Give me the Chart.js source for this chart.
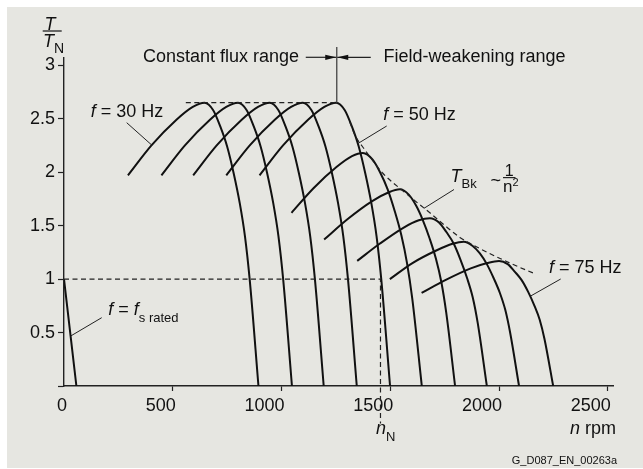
<!DOCTYPE html>
<html>
<head>
<meta charset="utf-8">
<script src="https://cdn.jsdelivr.net/npm/chart.js@4.4.0/dist/chart.umd.min.js"></script>
<style>
  html, body { margin: 0; padding: 0; background: #fff; }
  canvas { display: block; }
</style>
</head>
<body>
<canvas id="chart" width="643" height="469"></canvas>
<script>
// speed n in rpm, torque as T/TN
// constant flux range: every curve reaches the same breakdown torque
const torqueFlux = [1.97, 2.25, 2.49, 2.61, 2.65, 2.58, 2.43, 2.24, 1.99, 1.71, 1.40, 0.99, 0];
const n30 = [294, 402, 517, 592, 646, 686, 718, 750, 780, 808, 832, 854, 894];
const n35 = [448, 556, 671, 746, 800, 840, 872, 904, 934, 962, 986, 1008, 1048];
const n40 = [594, 702, 817, 892, 946, 986, 1018, 1050, 1080, 1108, 1132, 1154, 1194];
const n45 = [746, 854, 969, 1044, 1098, 1138, 1170, 1202, 1232, 1260, 1284, 1306, 1346];
const n50 = [899, 1007, 1122, 1197, 1251, 1291, 1323, 1355, 1385, 1413, 1437, 1459, 1499];

// field-weakening range
const n55 = [1046, 1147, 1254, 1324, 1374, 1418, 1453, 1488, 1520, 1551, 1577, 1601, 1645];
const t55 = [1.62, 1.85, 2.05, 2.15, 2.18, 2.12, 2.00, 1.84, 1.64, 1.41, 1.15, 0.82, 0];
const n60 = [1196, 1303, 1417, 1491, 1544, 1585, 1618, 1650, 1681, 1710, 1735, 1757, 1798];
const t60 = [1.37, 1.56, 1.73, 1.81, 1.84, 1.79, 1.69, 1.55, 1.38, 1.19, 0.97, 0.69, 0];
const n65 = [1348, 1451, 1560, 1631, 1682, 1724, 1758, 1792, 1823, 1853, 1879, 1902, 1944];
const t65 = [1.17, 1.33, 1.48, 1.55, 1.57, 1.53, 1.44, 1.33, 1.18, 1.01, 0.83, 0.59, 0];
const n70 = [1498, 1602, 1714, 1786, 1838, 1879, 1912, 1944, 1975, 2004, 2029, 2051, 2092];
const t70 = [1.00, 1.15, 1.27, 1.33, 1.35, 1.31, 1.24, 1.14, 1.01, 0.87, 0.71, 0.50, 0];
const n75 = [1644, 1753, 1870, 1946, 2000, 2040, 2072, 2104, 2134, 2163, 2187, 2209, 2249];
const t75 = [0.87, 0.99, 1.10, 1.15, 1.17, 1.14, 1.07, 0.99, 0.88, 0.75, 0.62, 0.44, 0];

// f = fs rated line near standstill
const nRated = [0, 57];
const tRated = [1, 0];

// breakdown torque envelope TBk ~ 1/n^2 (dashed)
const nBk = [1314, 1337, 1383, 1466, 1555, 1682, 1820, 1898, 2050, 2165];
const tBk = [2.47, 2.35, 2.21, 1.99, 1.83, 1.62, 1.39, 1.30, 1.15, 1.05];

// dashed helpers: constant breakdown torque, rated point (1, nN)
const nPeakLine = [560, 1254];
const tPeakLine = [2.65, 2.65];
const nNomLine = [0, 1455, 1455];
const tNomLine = [1, 1, -0.35];
const nBoundary = 1254;

const xTicks = [0, 500, 1000, 1500, 2000, 2500];

const FAM = "'Liberation Sans', Arial, sans-serif";
const INK = "#111";

function pts(ns, ts) {
  return ns.map((n, i) => ({ x: n, y: ts[i] }));
}

function curve(ns, ts) {
  return {
    data: pts(ns, ts),
    borderColor: INK,
    borderWidth: 2,
    pointRadius: 0,
    fill: false,
    cubicInterpolationMode: "monotone",
  };
}

function dashed(ns, ts, smooth) {
  return {
    data: pts(ns, ts),
    borderColor: "#222",
    borderWidth: 1.2,
    borderDash: [5, 3.5],
    pointRadius: 0,
    fill: false,
    clip: false,
    cubicInterpolationMode: smooth ? "monotone" : "default",
  };
}

const datasets = [
  dashed(nPeakLine, tPeakLine),
  dashed(nNomLine, tNomLine),
  dashed(nBk, tBk, true),
  curve(nRated, tRated),
  curve(n30, torqueFlux),
  curve(n35, torqueFlux),
  curve(n40, torqueFlux),
  curve(n45, torqueFlux),
  curve(n50, torqueFlux),
  curve(n55, t55),
  curve(n60, t60),
  curve(n65, t65),
  curve(n70, t70),
  curve(n75, t75),
];

// draws text pieces one after the other (italic symbols, subscripts)
function runs(ctx, x, y, parts, align) {
  let w = 0;
  parts.forEach((p) => {
    ctx.font = p[1];
    w += ctx.measureText(p[0]).width;
  });
  let cx = align === "right" ? x - w : align === "center" ? x - w / 2 : x;
  parts.forEach((p) => {
    ctx.font = p[1];
    ctx.fillText(p[0], cx, y + (p[2] || 0));
    cx += ctx.measureText(p[0]).width;
  });
}

function line(ctx, x0, y0, x1, y1) {
  ctx.beginPath();
  ctx.moveTo(x0, y0);
  ctx.lineTo(x1, y1);
  ctx.stroke();
}

function arrow(ctx, x0, x1, y) {
  line(ctx, x0, y, x1, y);
  const dir = Math.sign(x1 - x0);
  ctx.beginPath();
  ctx.moveTo(x1, y);
  ctx.lineTo(x1 - dir * 11, y - 2.6);
  ctx.lineTo(x1 - dir * 11, y + 2.6);
  ctx.closePath();
  ctx.fill();
}

const backdrop = {
  id: "backdrop",
  beforeDraw(chart) {
    const ctx = chart.ctx;
    ctx.save();
    ctx.fillStyle = "#ffffff";
    ctx.fillRect(0, 0, chart.width, chart.height);
    ctx.fillStyle = "#e6e6e1";
    ctx.fillRect(7, 7, chart.width - 7, chart.height - 8);
    ctx.restore();
  },
};

const notes = {
  id: "notes",
  afterDraw(chart) {
    const ctx = chart.ctx;
    const xs = chart.scales.x;
    const ys = chart.scales.y;
    const reg = `18px ${FAM}`;
    const ital = `italic 18px ${FAM}`;
    const sub = `13px ${FAM}`;
    ctx.save();
    ctx.fillStyle = INK;
    ctx.strokeStyle = "#222";
    ctx.textAlign = "left";
    ctx.textBaseline = "alphabetic";

    // range boundary with arrows
    const bx = xs.getPixelForValue(nBoundary);
    const by = ys.getPixelForValue(tPeakLine[1]);
    ctx.lineWidth = 1.3;
    ctx.strokeStyle = "#444";
    line(ctx, bx, 47, bx, by);
    ctx.strokeStyle = "#222";
    ctx.lineWidth = 1.2;
    arrow(ctx, bx - 31, bx - 0.5, 57.3);
    arrow(ctx, bx + 34, bx + 0.5, 57.3);
    runs(ctx, 299, 62, [["Constant flux range", reg]], "right");
    runs(ctx, 383.5, 62, [["Field-weakening range", reg]]);

    // y title T / TN
    runs(ctx, 50, 29.5, [["T", ital]], "center");
    ctx.lineWidth = 1.3;
    line(ctx, 42.7, 31, 61.7, 31);
    runs(ctx, 43, 46.7, [["T", ital], ["N", `14px ${FAM}`, 6]]);

    // frequency labels with leader lines
    ctx.lineWidth = 1;
    runs(ctx, 90.7, 117.3, [["f", ital], [" = 30 Hz", reg]]);
    line(ctx, 126.7, 122.7, 151.7, 145);
    runs(ctx, 383.3, 120, [["f", ital], [" = 50 Hz", reg]]);
    line(ctx, 386.7, 126, 358.3, 143.3);
    runs(ctx, 549, 273.3, [["f", ital], [" = 75 Hz", reg]]);
    line(ctx, 560.7, 279, 530.7, 296);
    runs(ctx, 108.3, 315, [["f", ital], [" = ", reg], ["f", ital], ["s rated", sub, 6.7]]);
    line(ctx, 101.7, 317.7, 70.7, 336);

    // TBk ~ 1/n^2
    runs(ctx, 450.5, 181.7, [["T", ital], ["Bk", sub, 6.6]]);
    line(ctx, 454, 189.5, 424, 208.3);
    runs(ctx, 490.5, 186, [["~", reg]]);
    runs(ctx, 509.3, 175.5, [["1", `16px ${FAM}`]], "center");
    ctx.lineWidth = 1.2;
    line(ctx, 503, 177.6, 515.5, 177.6);
    runs(ctx, 503, 191.7, [["n", `17px ${FAM}`], ["2", `11px ${FAM}`, -6]]);

    // axis names
    runs(ctx, 376, 434, [["n", ital], ["N", sub, 6.5]]);
    runs(ctx, 616, 434, [["n", ital], [" rpm", reg]], "right");
    runs(ctx, 617, 464.3, [["G_D087_EN_00263a", `11px ${FAM}`]], "right");
    ctx.restore();
  },
};

new Chart(document.getElementById("chart"), {
  type: "line",
  data: { datasets },
  plugins: [backdrop, notes],
  options: {
    responsive: false,
    animation: false,
    devicePixelRatio: 1,
    layout: { padding: { left: 0, right: 30, top: 58, bottom: 53 } },
    plugins: { legend: { display: false }, tooltip: { enabled: false } },
    scales: {
      x: {
        type: "linear",
        min: 0,
        max: 2524,
        afterFit(scale) { scale.height = 30; },
        afterBuildTicks(scale) { scale.ticks = xTicks.map((v) => ({ value: v })); },
        ticks: {
          align: "end",
          labelOffset: 3,
          padding: 4,
          maxRotation: 0,
          color: INK,
          font: { family: FAM, size: 18 },
          callback: (v) => String(v),
        },
        grid: {
          drawOnChartArea: false,
          drawTicks: true,
          tickLength: 5,
          tickWidth: 1.2,
          tickColor: (c) => (c.tick && c.tick.value === 0 ? "rgba(0,0,0,0)" : "#222"),
        },
        border: { display: true, color: "#222", width: 1.4 },
      },
      y: {
        min: 0,
        max: 3.068,
        afterFit(scale) { scale.width = 64; },
        ticks: {
          stepSize: 0.5,
          includeBounds: false,
          padding: 3,
          color: INK,
          font: { family: FAM, size: 18 },
          callback: (v) => (v === 0 ? "" : String(v)),
        },
        grid: {
          drawOnChartArea: false,
          drawTicks: true,
          tickLength: 6,
          tickWidth: 1.2,
          tickColor: "#222",
        },
        border: { display: true, color: "#222", width: 1.4 },
      },
    },
  },
});
</script>
</body>
</html>
